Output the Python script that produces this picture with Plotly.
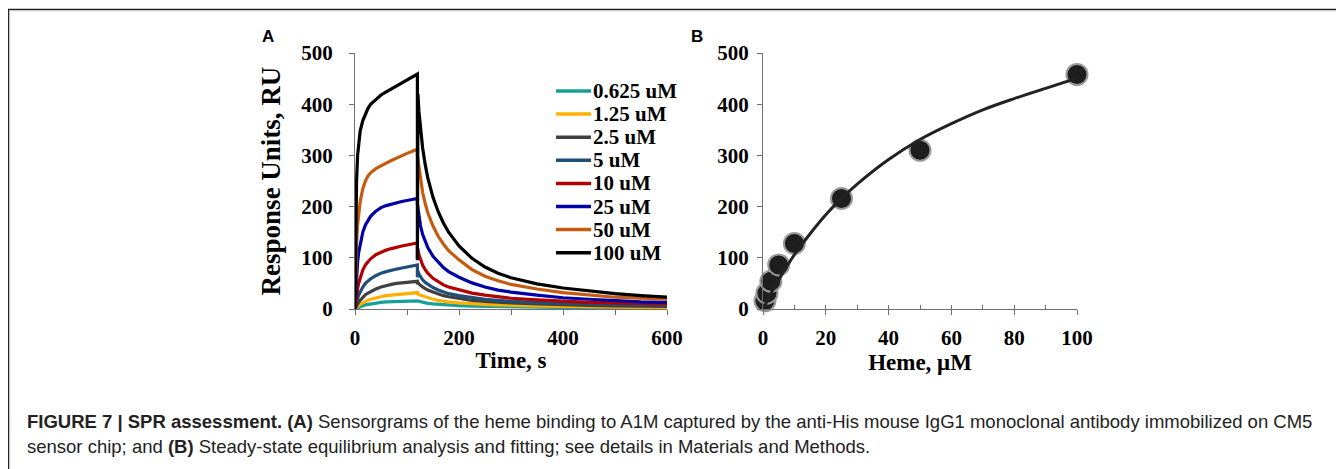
import plotly.graph_objects as go

# the page body has an 8px margin: figure is drawn from (8, 8)
OFF = 8
W, H = 1344 - OFF, 469 - OFF

# ---------------- data ----------------
time_s = [0, 1, 2, 3, 5, 7, 10, 15, 20, 25, 30, 40, 50, 60, 70, 80, 90, 100, 110, 120,
          120,
          121, 123, 126, 130, 135, 140, 150, 160, 170, 180, 200, 225, 250, 275, 300,
          350, 400, 450, 500, 550, 600]

conc_labels = ["0.625 uM", "1.25 uM", "2.5 uM", "5 uM", "10 uM", "25 uM", "50 uM", "100 uM"]

ru_0625 = [0, 0.5, 1, 1.5, 2.5, 3.5, 5, 6.5, 8, 9, 10, 12, 13, 14, 14.5, 15, 15.5, 16, 16, 17,
           16,
           16, 15, 14, 13, 12, 11, 10, 9, 8, 7.5, 6.5, 5.5, 5, 4.5, 4, 3.5, 3, 3, 2.5, 2.5, 2]
ru_125 = [0, 1, 2, 3, 5, 7, 9, 12, 15, 17, 19, 22, 24, 26, 27, 28, 29, 30, 31, 32,
          30,
          30, 28, 27, 25, 23, 22, 19, 17, 15, 14, 12, 10, 9, 8, 7, 6, 5, 4, 4, 3, 3]
ru_25 = [0, 2, 5, 7, 10, 13, 17, 23, 28, 31, 34, 39, 43, 46, 48, 50, 51, 52, 53, 54,
         48,
         52, 49, 46, 43, 40, 37, 33, 29, 26, 24, 21, 17, 15, 13, 12, 10, 8, 7, 6, 6, 5]
ru_5 = [0, 5, 10, 14, 21, 27, 34, 43, 50, 55, 59, 65, 70, 73, 76, 78, 80, 82, 84, 86,
        62,
        74, 68, 62, 57, 52, 48, 42, 37, 33, 30, 26, 22, 19, 17, 15, 13, 11, 10, 9, 8, 8]
ru_10 = [0, 10, 20, 28, 40, 50, 62, 76, 86, 93, 98, 106, 111, 115, 118, 121, 123, 125, 127, 129,
         98,
         118, 106, 96, 86, 77, 70, 60, 53, 47, 43, 37, 31, 27, 24, 21, 18, 15, 13, 12, 11, 10]
ru_25u = [0, 25, 48, 65, 92, 110, 128, 150, 164, 174, 181, 191, 198, 202, 205, 208, 210, 212, 214, 216,
          205,
          196, 180, 162, 146, 131, 120, 103, 91, 81, 73, 62, 51, 43, 37, 33, 27, 22, 19, 16, 14, 13]
ru_50 = [0, 50, 95, 125, 165, 190, 210, 235, 250, 260, 266, 274, 280, 285, 290, 295, 300, 304, 308, 312,
         300,
         292, 272, 250, 228, 206, 188, 162, 142, 127, 114, 96, 77, 64, 55, 48, 39, 32, 27, 23, 21, 19]
ru_100 = [0, 120, 200, 250, 300, 325, 348, 368, 382, 392, 400, 410, 418, 424, 430, 436, 442, 448, 453, 459,
          95,
          420, 385, 350, 315, 282, 256, 218, 190, 168, 150, 123, 99, 82, 70, 61, 49, 41, 35, 30, 26, 23]

sensorgrams = [ru_0625, ru_125, ru_25, ru_5, ru_10, ru_25u, ru_50, ru_100]

heme_uM = [0.625, 1.25, 2.5, 5, 10, 25, 50, 100]
ru_eq = [16, 31, 54, 86, 128, 216, 310, 458]

fit_x = [0, 1, 2.5, 5, 10, 15, 20, 25, 30, 40, 50, 60, 70, 80, 90, 100]
fit_y = [0, 12, 30, 57, 106, 147, 184, 216, 244, 292, 331, 362, 389, 411, 431, 451]

a_xticks = [0, 100, 200, 300, 400, 500, 600]
a_xticktext = ["0", "", "200", "", "400", "", "600"]
b_xticks = [0, 20, 40, 60, 80, 100]
y_ticks = [0, 100, 200, 300, 400, 500]

# ---------------- styles ----------------
colors = ["#17a09a", "#ffb000", "#404040", "#1f4e79", "#b00000", "#0000a8", "#c55a11", "#000000"]
SERIF = "Liberation Serif"
SANS = "Liberation Sans"
AX = "#707070"


def px(x):
    return (x - OFF) / W


def py(y):
    return 1 - (y - OFF) / H


fig = go.Figure()

for lab, vals, col in zip(conc_labels, sensorgrams, colors):
    fig.add_trace(go.Scatter(x=time_s, y=vals, mode="lines", name=lab,
                             line=dict(color=col, width=3.2), xaxis="x", yaxis="y",
                             showlegend=False))

fig.add_trace(go.Scatter(x=fit_x, y=fit_y, mode="lines", line=dict(color="#222222", width=3, shape="spline"),
                         xaxis="x3", yaxis="y2", showlegend=False, cliponaxis=False))
fig.add_trace(go.Scatter(x=heme_uM, y=ru_eq, mode="markers",
                         marker=dict(size=21, color="#1e1e1e", line=dict(color="#9a9a9a", width=2)),
                         xaxis="x2", yaxis="y2", showlegend=False, cliponaxis=False))

tickfont = dict(family=SERIF, size=21, color="black", weight="bold")
titlefont = dict(family=SERIF, size=23, color="black", weight="bold")

ydom = [py(309), py(53)]

fig.update_layout(
    width=W, height=H, margin=dict(l=0, r=0, t=0, b=0),
    paper_bgcolor="white", plot_bgcolor="white",
    showlegend=False,
    xaxis=dict(domain=[px(355), px(667)], range=[0, 600], anchor="y",
               tickvals=a_xticks, ticktext=a_xticktext, ticks="outside", ticklen=5,
               tickcolor=AX, showline=True, linecolor=AX, linewidth=1.3, showgrid=False,
               zeroline=False, tickfont=tickfont, ticklabelstandoff=5,
               title=dict(text="Time, s", font=titlefont, standoff=2), automargin=False),
    yaxis=dict(domain=ydom, range=[0, 500], anchor="x", tickvals=y_ticks,
               ticks="outside", ticklen=5, tickcolor=AX, showline=True, linecolor=AX,
               linewidth=1.3, showgrid=False, zeroline=False, tickfont=tickfont,
               ticklabelstandoff=12,
               title=dict(text="Response Units, RU", font=dict(family=SERIF, size=27, color="black", weight="bold"),
                          standoff=12), automargin=False),
    xaxis2=dict(domain=[px(763), px(1077)], range=[0, 100], anchor="y2",
                tickvals=b_xticks, ticks="outside", ticklen=5, tickcolor=AX, showline=True,
                linecolor=AX, linewidth=1.3, showgrid=False, zeroline=False, tickfont=tickfont,
                ticklabelstandoff=5,
                title=dict(text="Heme, μM", font=titlefont, standoff=2), automargin=False),
    xaxis3=dict(domain=[px(763), px(1077)], range=[0, 100], anchor="y2", overlaying="x2",
                dtick=10, tick0=0, ticks="inside", ticklen=4, tickcolor=AX, showline=False,
                showticklabels=False, showgrid=False, zeroline=False, automargin=False),
    yaxis2=dict(domain=ydom, range=[0, 500], anchor="x2", tickvals=y_ticks,
                ticks="outside", ticklen=5, tickcolor=AX, showline=True, linecolor=AX,
                linewidth=1.3, showgrid=False, zeroline=False, tickfont=tickfont,
                ticklabelstandoff=4, automargin=False),
)

# manual legend (panel A)
for i, (lab, col) in enumerate(zip(conc_labels, colors)):
    yy = 91 + 23.1 * i
    fig.add_shape(type="line", xref="paper", yref="paper", x0=px(556), x1=px(591),
                  y0=py(yy), y1=py(yy), line=dict(color=col, width=3.5))
    fig.add_annotation(x=px(591), y=py(yy), xref="paper", yref="paper", text=lab,
                       showarrow=False, xanchor="left", yanchor="middle",
                       font=dict(family=SERIF, size=21, color="black", weight="bold"))

# panel letters
for letter, xx in [("A", 268), ("B", 697)]:
    fig.add_annotation(x=px(xx), y=py(37), xref="paper", yref="paper", text=letter,
                       showarrow=False, xanchor="center", yanchor="middle",
                       font=dict(family=SANS, size=17, color="black", weight="bold"))

# caption
cap1 = ("<b>FIGURE 7 | SPR assessment. (A)</b> Sensorgrams of the heme binding to A1M captured by the "
        "anti-His mouse IgG1 monoclonal antibody immobilized on CM5")
cap2 = ("sensor chip; and <b>(B)</b> Steady-state equilibrium analysis and fitting; see details in "
        "Materials and Methods.")
for txt, yy in [(cap1, 421), (cap2, 446)]:
    fig.add_annotation(x=px(25), y=py(yy), xref="paper", yref="paper", text=txt,
                       showarrow=False, xanchor="left", yanchor="middle",
                       font=dict(family=SANS, size=18.5, color="#222222"))

# frame
fig.add_shape(type="line", xref="paper", yref="paper", x0=px(8.5), x1=px(8.5), y0=py(9), y1=0,
              line=dict(color="#222222", width=1.5))
fig.add_shape(type="line", xref="paper", yref="paper", x0=px(8), x1=1, y0=py(9.5), y1=py(9.5),
              line=dict(color="#222222", width=1.5))
fig.add_shape(type="line", xref="paper", yref="paper", x0=px(9.8), x1=px(9.8), y0=py(10.5), y1=0,
              line=dict(color="#c8c8c8", width=1))
fig.add_shape(type="line", xref="paper", yref="paper", x0=px(9.5), x1=1, y0=py(10.8), y1=py(10.8),
              line=dict(color="#c8c8c8", width=1))

fig.write_html("out.html")
